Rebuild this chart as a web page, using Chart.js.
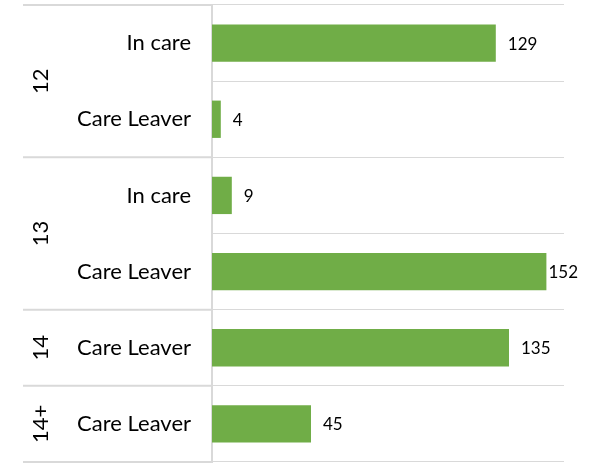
<!DOCTYPE html>
<html>
<head>
<meta charset="utf-8">
<script src="https://cdn.jsdelivr.net/npm/chart.js@4"></script>
<style>
  html, body { margin: 0; padding: 0; background: #ffffff; }
  #wrap { width: 596px; height: 470px; }
</style>
</head>
<body>
<div id="wrap"><canvas id="c" width="596" height="470"></canvas></div>
<script>
const categories = ['In care', 'Care Leaver', 'In care', 'Care Leaver', 'Care Leaver', 'Care Leaver'];
const groups = ['12', '12', '13', '13', '14', '14+'];
const values = [129, 4, 9, 152, 135, 45];
const xMin = 0;
const xMax = 160;

const FONT = 'Lato, "Liberation Sans", sans-serif';
const GRID = '#d9d9d9';
const TEXT = '#000000';

const groupPlugin = {
  id: 'groupAxis',
  afterDraw(chart) {
    const ctx = chart.ctx;
    const y = chart.scales.y;
    const area = chart.chartArea;
    const step = y.getPixelForValue(1) - y.getPixelForValue(0);
    const spans = [];
    let start = 0;
    for (let i = 1; i <= groups.length; i++) {
      if (i === groups.length || groups[i] !== groups[start]) {
        spans.push({ label: groups[start], first: start, last: i - 1 });
        start = i;
      }
    }
    ctx.save();
    ctx.strokeStyle = GRID;
    ctx.lineWidth = 2;
    const bounds = [y.getPixelForValue(0) - step / 2];
    spans.forEach(s => bounds.push(y.getPixelForValue(s.last) + step / 2));
    bounds.forEach(b => {
      ctx.beginPath();
      ctx.moveTo(23, b);
      ctx.lineTo(area.left, b);
      ctx.stroke();
    });
    ctx.fillStyle = TEXT;
    ctx.font = '22px ' + FONT;
    ctx.textAlign = 'center';
    ctx.textBaseline = 'middle';
    spans.forEach(s => {
      const cy = (y.getPixelForValue(s.first) + y.getPixelForValue(s.last)) / 2;
      ctx.save();
      ctx.translate(41, cy);
      ctx.rotate(-Math.PI / 2);
      ctx.fillText(s.label, 0, 0);
      ctx.restore();
    });
    const meta = chart.getDatasetMeta(0);
    ctx.font = '17px ' + FONT;
    ctx.textAlign = 'left';
    meta.data.forEach((bar, i) => {
      const txt = String(values[i]);
      const w = ctx.measureText(txt).width;
      let x = bar.x + 12;
      const limit = chart.width - 18;
      if (x + w > limit) x = limit - w;
      ctx.fillText(txt, x, bar.y + 1);
    });
    ctx.restore();
  }
};

new Chart(document.getElementById('c'), {
  type: 'bar',
  data: {
    labels: categories,
    datasets: [{
      data: values,
      backgroundColor: '#70ad47',
      borderWidth: 0,
      categoryPercentage: 1.0,
      barPercentage: 0.49
    }]
  },
  options: {
    indexAxis: 'y',
    responsive: false,
    animation: false,
    layout: { padding: { left: 0, right: 32, top: 5, bottom: 8 } },
    plugins: { legend: { display: false }, tooltip: { enabled: false } },
    scales: {
      x: { display: false, min: xMin, max: xMax },
      y: {
        offset: true,
        grid: { color: GRID, lineWidth: 1, drawTicks: false, offset: true },
        border: { color: GRID, width: 2 },
        ticks: { color: TEXT, font: { family: FONT, size: 22 }, padding: 21 },
        afterFit(s) { s.width = 212; s.paddingTop = 0; s.paddingBottom = 0; }
      }
    }
  },
  plugins: [groupPlugin]
});
</script>
</body>
</html>
